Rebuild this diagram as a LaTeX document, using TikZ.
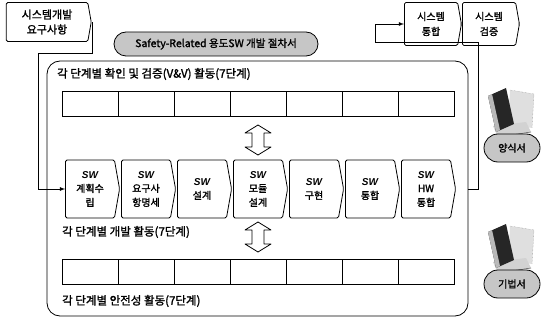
\documentclass[tikz,border=0pt]{standalone}
\usepackage{fontspec}
\newfontfamily\kr{Noto Sans CJK KR}[FakeBold=1.6]
\newfontfamily\lat{Liberation Sans}
\usetikzlibrary{shapes.symbols,shapes.misc}

\newcommand\swmark{{\lat\bfseries\itshape SW}}

\begin{document}
\begin{tikzpicture}[x=1pt,y=-1pt,
  stage/.style={draw, line width=0.8pt, fill=white, signal, signal to=east,
    signal pointer angle=160, minimum width=54pt, minimum height=58pt,
    inner sep=1pt, align=center, rounded corners=1.5pt,
    font=\kr\fontsize{10}{14}\selectfont},
  cell/.style={draw, line width=0.8pt, minimum width=56pt, minimum height=25pt, inner sep=0pt},
  tag/.style={draw, line width=0.8pt, rounded rectangle, fill=gray!45, inner sep=2pt,
    font=\kr\fontsize{10}{12}\selectfont},
  caption/.style={anchor=west, inner sep=0pt, font=\kr\fontsize{11.5}{14}\selectfont},
  flow/.style={line width=0.8pt, -latex}]
  \useasboundingbox (0,0) rectangle (545,323);

  % outer frame holding the three rows
  \node[draw, line width=0.8pt, rounded corners=13pt, minimum width=421pt,
    minimum height=255pt] (frame) at (257.5,188.5) {};
  \node[tag, minimum width=208pt, minimum height=24pt, font=\kr\fontsize{10.5}{12}\selectfont]
    (plan) at (216,44) {Safety-Related 용도SW 개발 절차서};

  % system level boxes
  \node[stage, minimum width=85pt, minimum height=39pt, font=\kr\fontsize{11}{15}\selectfont]
    (req) at (47,22) {시스템개발\\요구사항};
  \node[stage, minimum width=57pt, minimum height=43pt, font=\kr\fontsize{10}{15}\selectfont]
    (sysint) at (431,24) {시스템\\통합};
  \node[stage, minimum width=57pt, minimum height=43pt, font=\kr\fontsize{10}{15}\selectfont]
    (sysver) at (489,24) {시스템\\검증};

  % the three rows
  \node[caption] (capv) at (57,74) {각 단계별 확인 및 검증(V\&V) 활동(7단계)};
  \foreach \n in {1,...,7} {
    \node[cell] (v\n) at ({34+56*\n},104) {};
    \node[cell] (a\n) at ({34+56*\n},272) {};
  }
  \foreach \n/\t in {1/{\swmark\\계획수\\립}, 2/{\swmark\\요구사\\항명세}, 3/{\swmark\\설계},
      4/{\swmark\\모듈\\설계}, 5/{\swmark\\구현}, 6/{\swmark\\통합}, 7/{\swmark\\HW\\통합}}
    \node[stage] (s\n) at ({34+56*\n},189) {\t};
  \node[caption] (capd) at (62,232) {각 단계별 개발 활동(7단계)};
  \node[caption] (caps) at (62,301) {각 단계별 안전성 활동(7단계)};

  % hollow up-down arrows between the rows
  \foreach \y in {140,237}
    \draw[line width=0.8pt, fill=white, line join=round] (258,\y-15) -- ++(13,8) -- ++(-7,0)
      -- ++(0,14) -- ++(7,0) -- (258,\y+15) -- ++(-13,-8) -- ++(7,0) -- ++(0,-14) -- ++(-7,0) -- cycle;

  % flow in and out of the frame
  \draw[flow] (req.east) -| (92,53) -| ([xshift=-27pt]s1.west) -- (s1.west);
  \draw[flow] (frame.east |- s7.east) -| (478,42) -| ([xshift=-29pt]sysint.west) -- (sysint.west);

  % books
  \foreach \y in {88,224} {
    \begin{scope}[shift={(488,\y)}]
      \fill[gray!25] (22,2) -- (46,6) -- (44,40) -- (20,36) -- cycle;
      \draw[gray, densely dotted] (22,2) -- (46,6) -- (44,40);
      \fill[gray!35] (5,38) -- (38,34) -- (43,44) -- (10,49) -- cycle;
      \draw[gray!60!black, line width=0.5pt] (10,49) -- (43,44);
      \fill[black!85] (0,8) -- (18,0) -- (26,36) -- (8,44) -- cycle;
      \fill[gray!55] (0,8) -- (4,6) -- (12,42) -- (8,44) -- cycle;
    \end{scope}
  }
  \node[tag, minimum width=60pt, minimum height=28pt] (form) at (512,148) {양식서};
  \node[tag, minimum width=60pt, minimum height=28pt] (tech) at (512,284) {기법서};
\end{tikzpicture}
\end{document}
